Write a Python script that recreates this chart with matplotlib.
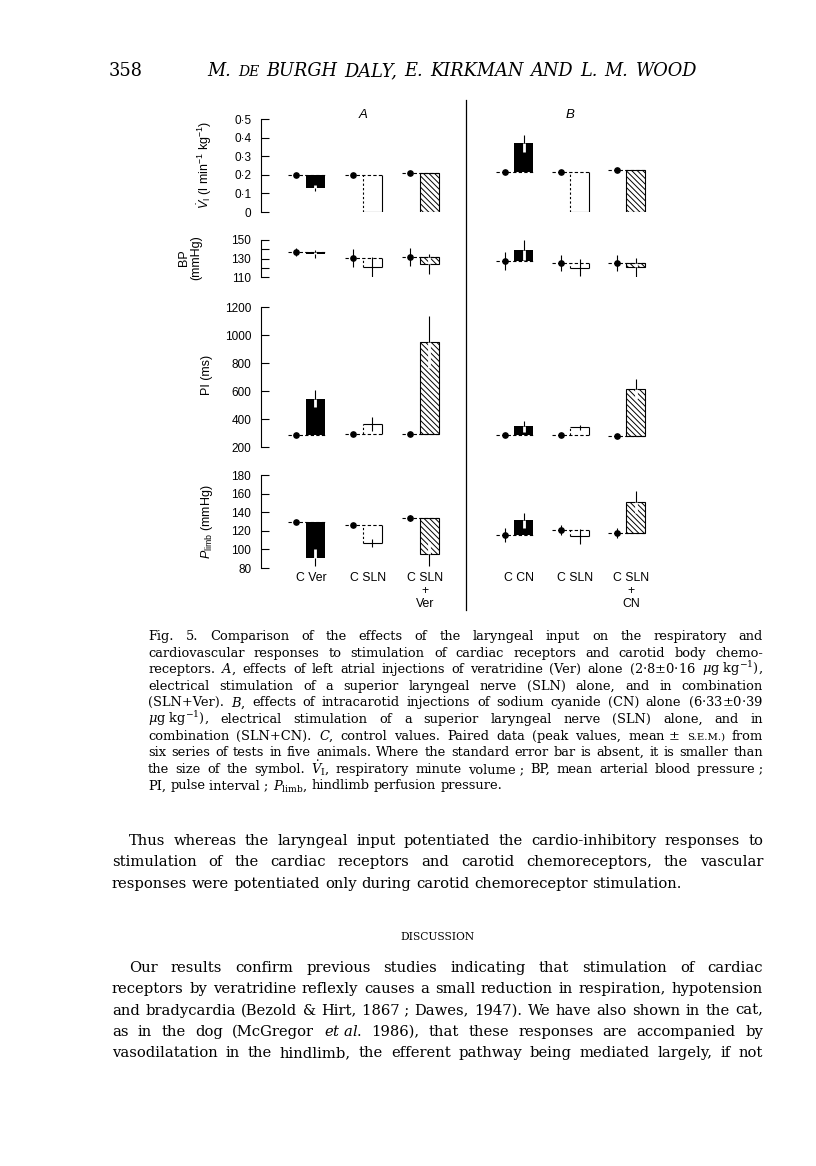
import matplotlib
matplotlib.use('Agg')
import matplotlib.pyplot as plt
import numpy as np

plt.rcParams['font.family'] = ['Liberation Sans', 'DejaVu Sans']
plt.rcParams['mathtext.fontset'] = 'custom'
plt.rcParams['mathtext.rm'] = 'Liberation Sans'
plt.rcParams['mathtext.it'] = 'Liberation Sans:italic'
plt.rcParams['hatch.linewidth'] = 0.7

# ---- data ----
groups = ['C Ver', 'C SLN', 'C SLN\n+\nVer', 'C CN', 'C SLN', 'C SLN\n+\nCN']
styles = ['black', 'open', 'hatch', 'black', 'open', 'hatch']
xpos = [0, 1, 2, 3.65, 4.63, 5.61]

vi_ctrl = [0.20, 0.20, 0.21, 0.215, 0.215, 0.225]
vi_ctrl_err = [0, 0, 0, 0, 0, 0]
vi_resp = [0.128, 0.0, 0.0, 0.37, 0.0, 0.0]
vi_resp_err = [0.015, 0, 0, 0.045, 0, 0]

bp_ctrl = [137, 130.5, 131.5, 127.5, 125, 125]
bp_ctrl_err = [4, 10, 10, 10, 9, 9]
bp_resp = [135, 121, 124, 139, 120, 120.5]
bp_resp_err = [4, 11, 11, 11, 9, 10]

pi_ctrl = [285, 295, 295, 285, 285, 278]
pi_ctrl_err = [0, 0, 0, 0, 0, 0]
pi_resp = [545, 362, 950, 348, 340, 614]
pi_resp_err = [60, 50, 185, 38, 20, 70]

pl_ctrl = [129.5, 126, 133.5, 115.5, 121, 117.5]
pl_ctrl_err = [2, 0, 3, 8, 5, 5]
pl_resp = [91, 107, 95, 131.5, 114, 151]
pl_resp_err = [9, 4, 13, 8, 8, 12]

W, H = 816, 1166
fig = plt.figure(figsize=(W / 100, H / 100), dpi=100)
page = fig.add_axes([0, 0, 1, 1])
page.set_xlim(0, W)
page.set_ylim(H, 0)
page.axis('off')


def px_axes(x0, y0, x1, y1):
    return fig.add_axes([x0 / W, 1 - y1 / H, (x1 - x0) / W, (y1 - y0) / H])


def draw_row(ax, ctrl, cerr, resp, rerr):
    bw = 0.33
    for x, c, ce, r, re_, st in zip(xpos, ctrl, cerr, resp, rerr, styles):
        left = x + 0.17
        right = left + bw
        mid = left + bw / 2
        lo, hi = min(c, r), max(c, r)
        if st == 'black':
            ax.bar(left, hi - lo, width=bw, bottom=lo, align='edge',
                   color='black', lw=0, zorder=2)
        elif st == 'hatch':
            ax.bar(left, hi - lo, width=bw, bottom=lo, align='edge',
                   facecolor='white', edgecolor='black', hatch='\\\\\\\\\\\\',
                   lw=0.8, zorder=2)
        else:
            ax.vlines(left, lo, hi, color='black', lw=0.8,
                      linestyles=(0, (2, 2)), zorder=3)
            ax.vlines(right, lo, hi, color='black', lw=0.8, zorder=3)
            ax.hlines(r, left, right, color='black', lw=0.8, zorder=3)
        # dashed control level
        ax.hlines(c, x - 0.15, right, color='black', lw=0.8,
                  linestyles=(0, (3, 2)), zorder=3)
        ax.plot(x, c, 'o', ms=3.8, color='black', zorder=4)
        if ce:
            ax.vlines(x, c - ce, c + ce, color='black', lw=0.8, zorder=4)
        if re_:
            a, b = r - re_, r + re_
            if st == 'open':
                ax.vlines(mid, a, b, color='black', lw=0.8, zorder=4)
            else:
                ia, ib = max(a, lo), min(b, hi)
                if ib > ia:
                    ax.vlines(mid, ia, ib, color='white', lw=2.0, zorder=4)
                if a < lo:
                    ax.vlines(mid, a, lo, color='black', lw=0.8, zorder=4)
                if b > hi:
                    ax.vlines(mid, hi, b, color='black', lw=0.8, zorder=4)


def style_axes(ax, ylim, ticks, labels):
    ax.set_xlim(-0.614, 6.72)
    ax.set_ylim(*ylim)
    for s in ['top', 'right', 'bottom']:
        ax.spines[s].set_visible(False)
    ax.spines['left'].set_linewidth(0.8)
    ax.set_yticks(ticks, labels)
    ax.tick_params(axis='y', direction='in', length=6, width=0.8, pad=7,
                   labelsize=8.5)
    ax.set_xticks([])
    ax.patch.set_alpha(0)


ax1 = px_axes(261, 119, 680, 212)
draw_row(ax1, vi_ctrl, vi_ctrl_err, vi_resp, vi_resp_err)
style_axes(ax1, (0, 0.5), [0, 0.1, 0.2, 0.3, 0.4, 0.5],
           ['0', '0·1', '0·2', '0·3', '0·4', '0·5'])

ax2 = px_axes(261, 240, 680, 277)
draw_row(ax2, bp_ctrl, bp_ctrl_err, bp_resp, bp_resp_err)
style_axes(ax2, (110, 150), [110, 120, 130, 140, 150],
           ['110', '', '130', '', '150'])

ax3 = px_axes(261, 307, 680, 447)
draw_row(ax3, pi_ctrl, pi_ctrl_err, pi_resp, pi_resp_err)
style_axes(ax3, (200, 1200), [200, 400, 600, 800, 1000, 1200],
           ['200', '400', '600', '800', '1000', '1200'])

ax4 = px_axes(261, 475, 680, 568)
draw_row(ax4, pl_ctrl, pl_ctrl_err, pl_resp, pl_resp_err)
style_axes(ax4, (80, 180), [80, 100, 120, 140, 160, 180],
           ['80', '100', '120', '140', '160', '180'])
ax4.set_xticks([p + 0.26 for p in xpos], groups)
ax4.tick_params(axis='x', length=0, pad=3, labelsize=8.8)
for t in ax4.get_xticklabels():
    t.set_linespacing(1.1)
    t.set_verticalalignment('top')

# y labels
page.text(205, 165, r'$\dot{V}_{\mathrm{I}}$ (l min$^{-1}$ kg$^{-1}$)', rotation=90,
          ha='center', va='center', fontsize=9)
page.text(190, 258, 'BP\n(mmHg)', rotation=90, ha='center', va='center',
          fontsize=9, linespacing=1.1)
page.text(207, 375, 'PI (ms)', rotation=90, ha='center', va='center', fontsize=9)
page.text(207, 522, r'$P_{\mathrm{limb}}$ (mmHg)', rotation=90, ha='center',
          va='center', fontsize=9)
page.text(363, 115, 'A', style='italic', ha='center', va='center', fontsize=9.5)
page.text(570, 115, 'B', style='italic', ha='center', va='center', fontsize=9.5)
page.plot([466, 466], [100, 610], color='black', lw=0.9)

# ---- page text ----
SERIF = dict(family='DejaVu Serif', math_fontfamily='dejavuserif')
renderer = fig.canvas.get_renderer()


def plain(line):
    return line.replace('~', ' ').replace('{sc}', '')


def natural_width(line, size, **kw):
    t = page.text(0, 0, plain(line), fontsize=size, **SERIF, **kw)
    w = t.get_window_extent(renderer).width
    t.remove()
    return w


def fit_size(lines, width, base=10, **kw):
    scale = min(width / natural_width(l, base, **kw) for l in lines)
    return base * scale * 0.985


def place_line(line, x0, x1, y, size, justify=True, **kw):
    toks = []
    for w in line.split(' '):
        opts = dict(SERIF, fontsize=size)
        opts.update(kw)
        if w.startswith('{sc}'):
            w = w[4:]
            opts['fontsize'] = size * 0.78
        toks.append(page.text(0, y, w.replace('~', ' '), ha='left',
                              va='baseline', **opts))
    widths = [t.get_window_extent(renderer).width for t in toks]
    if justify and len(toks) > 1:
        gap = (x1 - x0 - sum(widths)) / (len(toks) - 1)
    else:
        gap = size * 0.32 * 100 / 72
    x = x0
    for t, wd in zip(toks, widths):
        t.set_x(x)
        x += wd + gap


# header
head = 'M. {sc}DE BURGH DALY, E. KIRKMAN AND L. M. WOOD'
hs = fit_size([head], 697 - 207, style='italic')
page.text(109, 76, '358', ha='left', va='baseline', fontsize=hs, **SERIF)
place_line(head, 207, 697, 76, hs, style='italic')

caption = [
    'Fig. 5. Comparison of the effects of the laryngeal input on the respiratory and',
    'cardiovascular responses to stimulation of cardiac receptors and carotid body chemo-',
    r'receptors. $A$, effects of left atrial injections of veratridine (Ver) alone (2·8$\pm$0·16 $\mu$g~kg$^{-1}$),',
    'electrical stimulation of a superior laryngeal nerve (SLN) alone, and in combination',
    r'(SLN+Ver). $B$, effects of intracarotid injections of sodium cyanide (CN) alone (6·33$\pm$0·39',
    r'$\mu$g~kg$^{-1}$), electrical stimulation of a superior laryngeal nerve (SLN) alone, and in',
    r'combination (SLN+CN). $C$, control values. Paired data (peak values, mean~$\pm$ {sc}S.E.M.) from',
    'six series of tests in five animals. Where the standard error bar is absent, it is smaller than',
    r'the size of the symbol. $\dot{V}_{\mathrm{I}}$, respiratory minute volume~; BP, mean arterial blood pressure~;',
    r'PI, pulse interval~; $P_{\mathrm{limb}}$, hindlimb perfusion pressure.',
]
cs = fit_size(caption[:-1], 763 - 148)
for i, line in enumerate(caption):
    place_line(line, 148, 763, 640 + 16.6 * i, cs,
               justify=(i < len(caption) - 1))

para1 = [
    'Thus whereas the laryngeal input potentiated the cardio-inhibitory responses to',
    'stimulation of the cardiac receptors and carotid chemoreceptors, the vascular',
    'responses were potentiated only during carotid chemoreceptor stimulation.',
]
para2 = [
    'Our results confirm previous studies indicating that stimulation of cardiac',
    'receptors by veratridine reflexly causes a small reduction in respiration, hypotension',
    'and bradycardia (Bezold & Hirt, 1867~; Dawes, 1947). We have also shown in the cat,',
    r'as in the dog (McGregor $et$~$al$. 1986), that these responses are accompanied by',
    'vasodilatation in the hindlimb, the efferent pathway being mediated largely, if not',
]
bs = fit_size([para2[1], para2[2], para1[1]], 763 - 112)
for i, line in enumerate(para1):
    place_line(line, 129 if i == 0 else 112, 763, 845 + 21.4 * i, bs,
               justify=(i < len(para1) - 1))

page.text(437, 940, 'DISCUSSION', ha='center', va='baseline', fontsize=bs * 0.72,
          **SERIF)

for i, line in enumerate(para2):
    place_line(line, 129 if i == 0 else 112, 763, 972 + 21.3 * i, bs)

fig.savefig('out.png', dpi=100)
